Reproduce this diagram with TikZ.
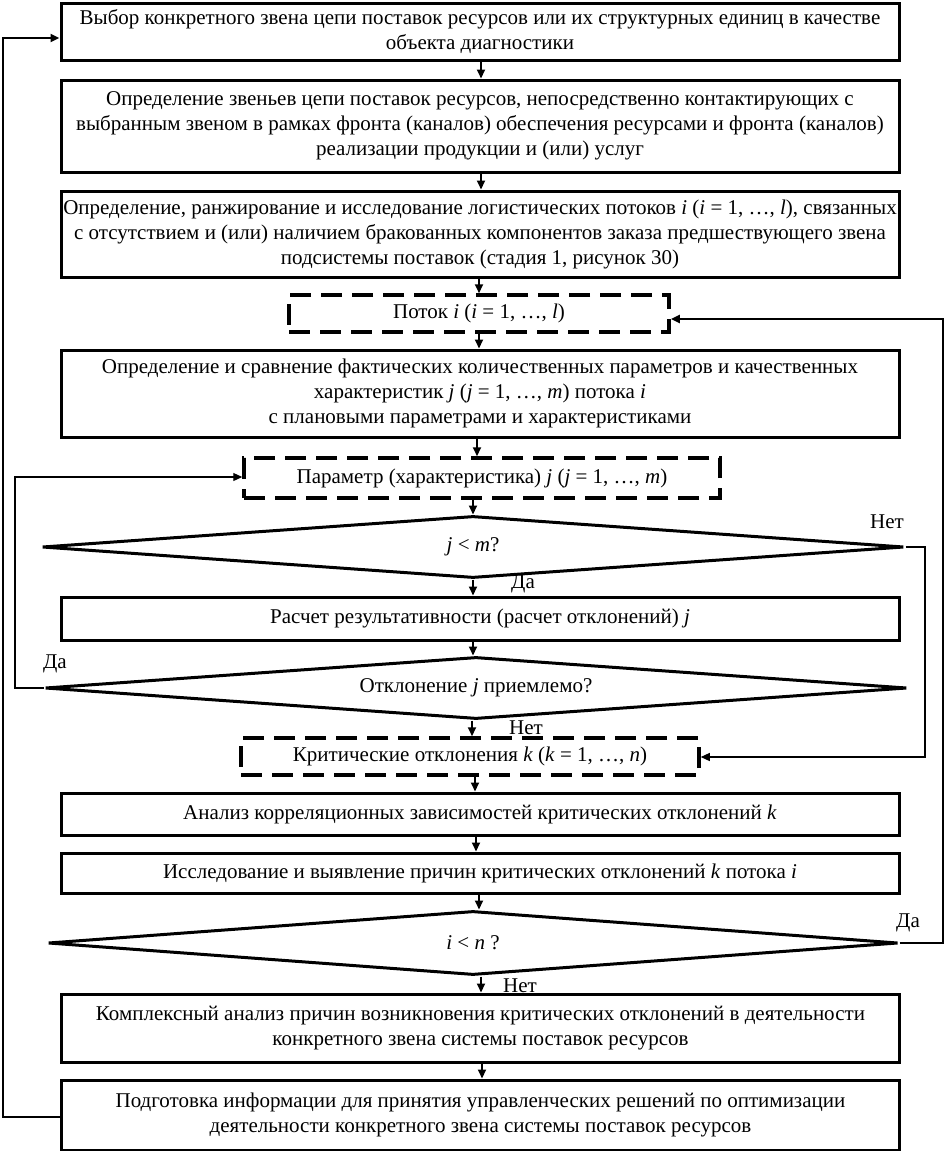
\documentclass[tikz,border=0pt]{standalone}
\usepackage{fontspec}
\setmainfont{Liberation Serif}
\usetikzlibrary{shapes.geometric,arrows.meta}
\begin{document}
\begin{tikzpicture}[x=1pt,y=-1pt,
  every node/.style={font=\fontsize{21}{25}\selectfont},
  box/.style={draw,line width=3pt,minimum width=838pt,align=center,inner sep=0pt},
  dbox/.style={draw,line width=3.5pt,dash pattern=on 21pt off 10pt,align=center,inner sep=0pt},
  dia/.style={draw,shape=diamond,line width=3pt,aspect=14,inner sep=0pt,minimum width=862pt,minimum height=62pt},
  arr/.style={line width=2pt,-{Triangle[length=9pt,width=8pt]}},
  thinarr/.style={line width=1.2pt,-{Triangle[length=9pt,width=8pt]}},
  lbl/.style={font=\fontsize{21}{25}\selectfont,inner sep=0pt}]
\useasboundingbox (0,0) rectangle (945,1151);
\node[box,minimum height=57pt] (b1) at (480,31.5) {Выбор конкретного звена цепи поставок ресурсов или их структурных единиц в качестве\\ объекта диагностики};
\node[box,minimum height=92pt] (b2) at (480,126) {Определение звеньев цепи поставок ресурсов, непосредственно контактирующих с\\ выбранным звеном в рамках фронта (каналов) обеспечения ресурсами и фронта (каналов)\\ реализации продукции и (или) услуг};
\node[box,minimum height=86pt] (b3) at (480,234) {Определение, ранжирование и исследование логистических потоков \textit{i} (\textit{i} = 1, …, \textit{l}), связанных\\ с отсутствием и (или) наличием бракованных компонентов заказа предшествующего звена\\ подсистемы поставок (стадия 1, рисунок 30)};
\node[dbox,minimum width=380pt,minimum height=37pt] (d1) at (479,313.5) {Поток \textit{i} (\textit{i} = 1, …, \textit{l})};
\node[box,minimum height=87pt] (b4) at (480,393.5) {Определение и сравнение фактических количественных параметров и качественных\\ характеристик \textit{j} (\textit{j} = 1, …, \textit{m}) потока \textit{i}\\ с плановыми параметрами и характеристиками};
\node[dbox,minimum width=476pt,minimum height=40pt] (d2) at (482,478) {Параметр (характеристика) \textit{j} (\textit{j} = 1, …, \textit{m})};
\node[dia] (q1) at (473,547) {\textit{j} < \textit{m}?};
\node[box,minimum height=43pt] (b5) at (480,618.5) {Расчет результативности (расчет отклонений) \textit{j}};
\node[dia] (q2) at (476,688) {Отклонение \textit{j} приемлемо?};
\node[dbox,minimum width=458pt,minimum height=37pt] (d3) at (470,756.5) {Критические отклонения \textit{k} (\textit{k} = 1, …, \textit{n})};
\node[box,minimum height=42pt] (b6) at (480,814) {Анализ корреляционных зависимостей критических отклонений \textit{k}};
\node[box,minimum height=40pt] (b7) at (480,873) {Исследование и выявление причин критических отклонений \textit{k} потока \textit{i}};
\node[dia,minimum width=850pt,minimum height=64pt] (q3) at (473,943) {\textit{i} < \textit{n} ?};
\node[box,minimum height=68pt] (b8) at (480.5,1028) {Комплексный анализ причин возникновения критических отклонений в деятельности\\ конкретного звена системы поставок ресурсов};
\node[box,minimum height=70pt] (b9) at (480.5,1115) {Подготовка информации для принятия управленческих решений по оптимизации\\ деятельности конкретного звена системы поставок ресурсов};
% labels
\node[lbl] (n1) at (887,522) {Нет};
\node[lbl] (y1) at (523,584) {Да};
\node[lbl] (y2) at (55,664) {Да};
\node[lbl] (n2) at (526,728) {Нет};
\node[lbl] (y3) at (908,923) {Да};
\node[lbl] (n3) at (520,986) {Нет};
% main arrows
\draw[arr] (b1.south -| 481,0) -- (b2.north -| 481,0);
\draw[arr] (b2.south -| 481,0) -- (b3.north -| 481,0);
\draw[arr] (b3.south -| 479,0) -- (d1.north -| 479,0);
\draw[arr] (d1.south -| 479,0) -- (b4.north -| 479,0);
\draw[arr] (b4.south -| 477,0) -- (d2.north -| 477,0);
\draw[arr] (d2.south -| 473,0) -- (q1.north);
\draw[arr] (q1.south) -- (b5.north -| q1.south);
\draw[arr] (b5.south -| 473,0) -- (q2.north -| 473,0);
\draw[arr] (q2.south -| 472,0) -- (d3.north -| 472,0);
\draw[arr] (d3.south -| 475,0) -- (b6.north -| 475,0);
\draw[arr] (b6.south -| 476,0) -- (b7.north -| 476,0);
\draw[arr] (b7.south -| 479,0) -- (q3.north -| 479,0);
\draw[arr] (q3.south -| 481,0) -- (b8.north -| 481,0);
\draw[arr] (b8.south -| 482,0) -- (b9.north -| 482,0);
% loops
\coordinate (c1) at (3,1117);
\coordinate (c2) at (3,38);
\draw[arr,line width=2.5pt] (b9.west |- c1) -- (c1) -- (c2) -- (b1.west |- c2);
\coordinate (c3) at (943,319);
\draw[arr,line width=2.5pt] (q3.east) -- (q3.east -| c3) -- (c3) -- (d1.east |- c3);
\coordinate (c4) at (925,757);
\draw[thinarr] (q1.east) -- (q1.east -| c4) -- (c4) -- (d3.east |- c4);
\coordinate (c5) at (15,477);
\draw[thinarr] (q2.west) -- (q2.west -| c5) -- (c5) -- (d2.west |- c5);
\end{tikzpicture}
\end{document}
